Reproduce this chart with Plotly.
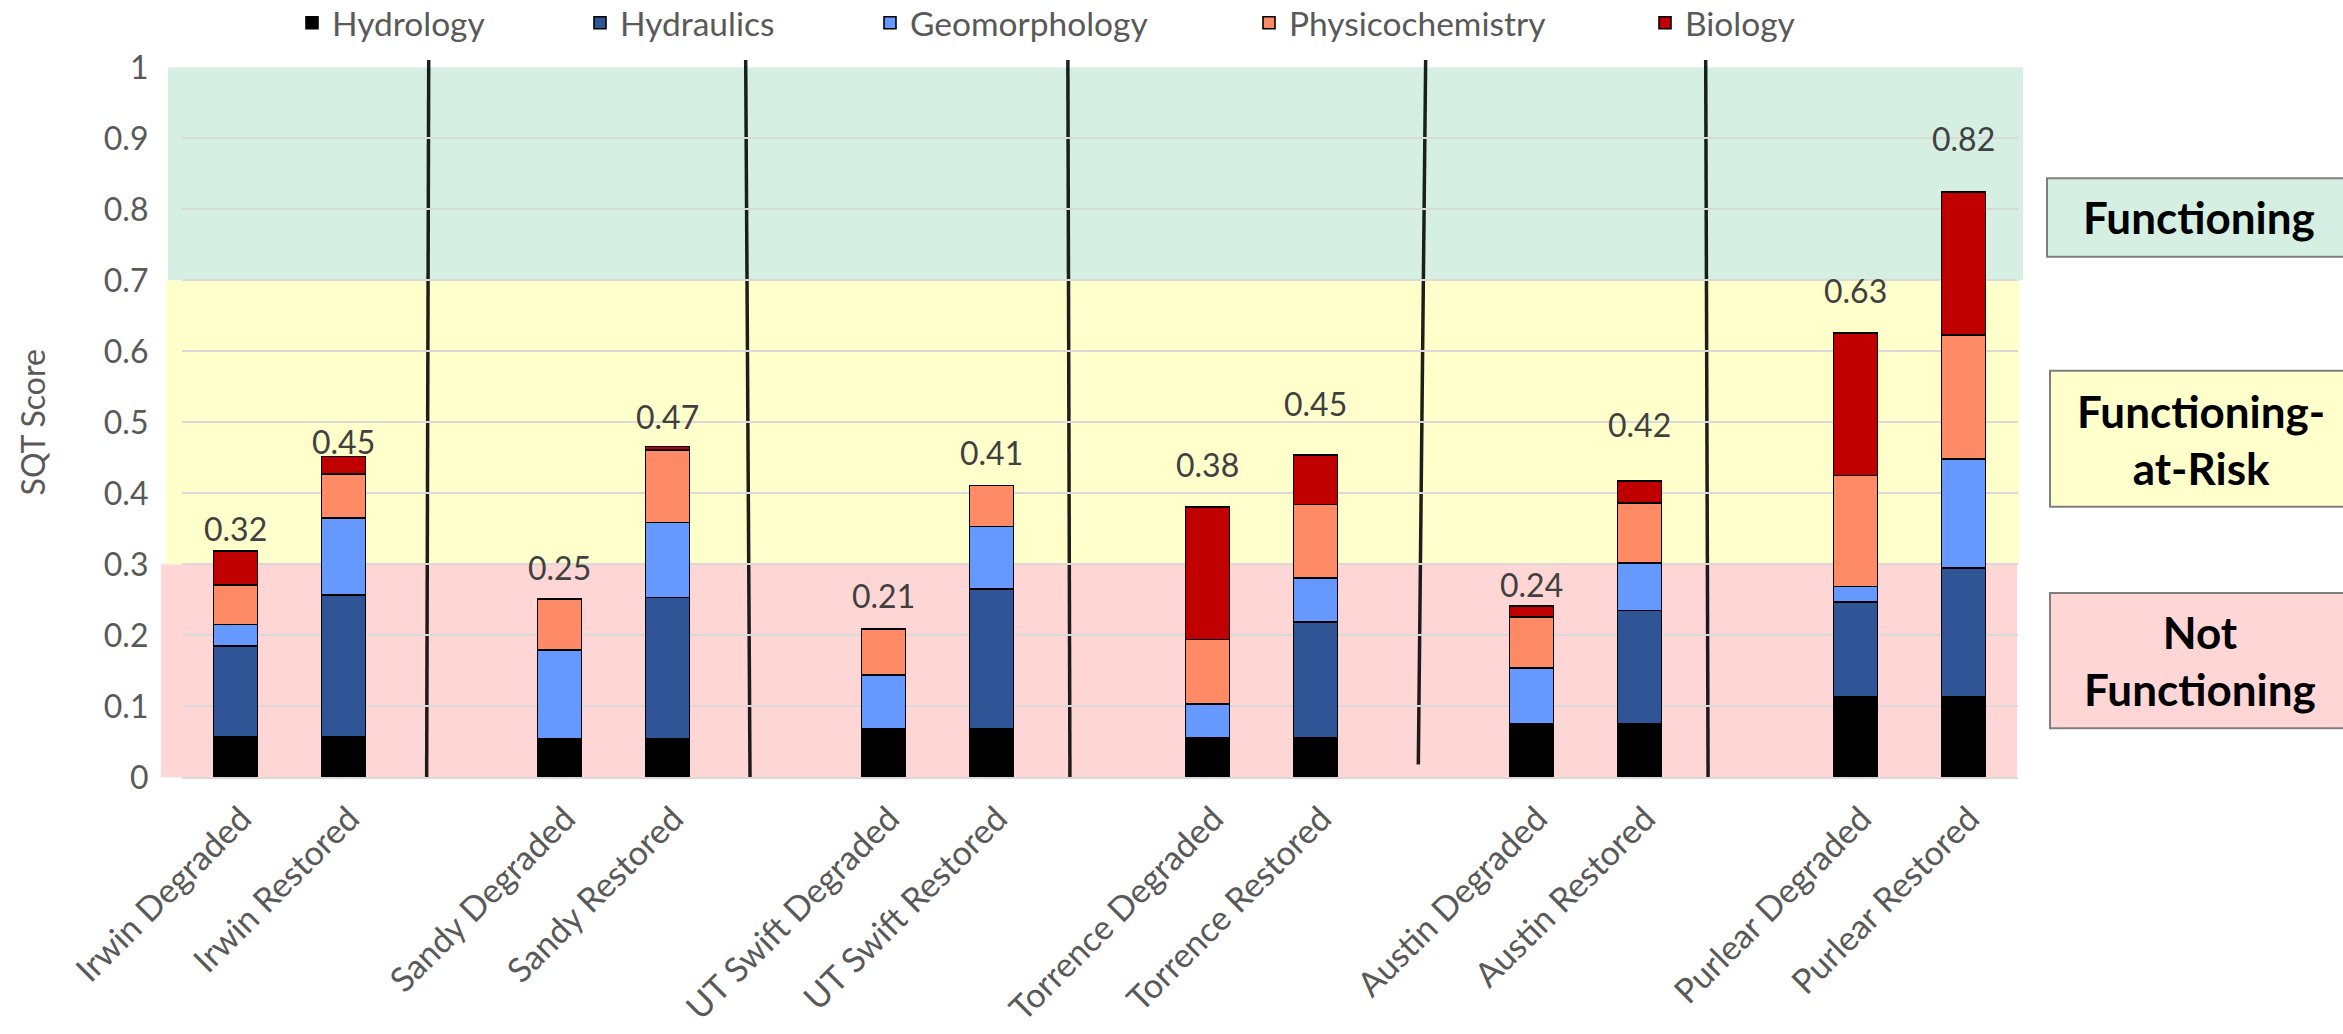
import plotly.graph_objects as go

# ---------------- data ----------------
sites = ["Irwin", "Sandy", "UT Swift", "Torrence", "Austin", "Purlear"]
conditions = ["Degraded", "Restored"]
categories = [f"{s} {c}" for s in sites for c in conditions]

hydrology = [0.057, 0.057, 0.054, 0.054, 0.068, 0.068, 0.056, 0.056, 0.075, 0.075, 0.113, 0.113]
hydraulics = [0.128, 0.200, 0.0, 0.199, 0.0, 0.197, 0.0, 0.163, 0.0, 0.160, 0.134, 0.182]
geomorphology = [0.030, 0.108, 0.125, 0.106, 0.076, 0.088, 0.047, 0.062, 0.079, 0.067, 0.022, 0.153]
physicochemistry = [0.056, 0.062, 0.072, 0.102, 0.065, 0.058, 0.091, 0.103, 0.072, 0.084, 0.156, 0.175]
biology = [0.048, 0.025, 0.0, 0.005, 0.0, 0.0, 0.187, 0.070, 0.015, 0.031, 0.201, 0.201]

series_names = ["Hydrology", "Hydraulics", "Geomorphology", "Physicochemistry", "Biology"]
series_values = [hydrology, hydraulics, geomorphology, physicochemistry, biology]

# condition classes (score thresholds)
class_names = ["Not<br>Functioning", "Functioning-<br>at-Risk", "Functioning"]
class_bounds = [(0.0, 0.3), (0.3, 0.7), (0.7, 1.0)]

# ---------------- styling ----------------
W, H = 2343, 1034
series_colors = ["#000000", "#2F5597", "#6699FF", "#FF8B66", "#C00000"]
class_fill = ["#FFD6D6", "#FFFFCC", "#D5F0E3"]
TICK_GRAY = "#595959"
LABEL_GRAY = "#404040"

# plot area in pixels
PX_L, PX_R = 181.5, 2017.5
PX_TOP, PX_BOT = 67.3, 777.3
xdom = [PX_L / W, PX_R / W]
ydom = [(H - PX_BOT) / H, (H - PX_TOP) / H]


def px_x(p):
    return p / W


def px_y(p):
    return (H - p) / H


def val_to_paper(v):
    return ydom[0] + v * (ydom[1] - ydom[0])


# slot positions: Degraded / Restored pair then one empty slot
positions = [3 * i + j for i in range(len(sites)) for j in range(len(conditions))]

fig = go.Figure()
legend_ids = ["legend", "legend2", "legend3", "legend4", "legend5"]
for k, (name, vals) in enumerate(zip(series_names, series_values)):
    fig.add_trace(go.Bar(
        x=positions, y=vals, name=name,
        marker=dict(color=series_colors[k], line=dict(color="#000000", width=1.6)),
        width=0.41,
        legend=legend_ids[k],
        hoverinfo="name+y",
    ))

# legends (one per series so positions match)
legend_marker_px = [305, 593, 883, 1262, 1658]
for k, lid in enumerate(legend_ids):
    fig.layout[lid] = dict(
        x=px_x(legend_marker_px[k] - 13), y=px_y(23), xanchor="left", yanchor="middle",
        orientation="h", bgcolor="rgba(0,0,0,0)", borderwidth=0,
        font=dict(family="Lato", size=33.5, color=TICK_GRAY),
    )

# total labels above bars
totals = [sum(s[i] for s in series_values) for i in range(len(categories))]
label_offsets = [22, 15, 32, 30, 33, 33, 42, 51, 22, 57, 42, 54]
for i, t in enumerate(totals):
    fig.add_annotation(
        x=positions[i], y=t, text=f"{t:.2f}", showarrow=False,
        yshift=label_offsets[i], yanchor="middle", xanchor="center",
        font=dict(family="Lato", size=32, color=LABEL_GRAY),
    )

# class shading bands (hand-drawn extents)
band_px = [(161, 2017), (166, 2019.5), (168, 2023)]
shapes = []
for (lo, hi), (x0, x1), col in zip(class_bounds, band_px, class_fill):
    shapes.append(dict(type="rect", xref="paper", yref="paper",
                       x0=px_x(x0), x1=px_x(x1), y0=val_to_paper(lo), y1=val_to_paper(hi),
                       fillcolor=col, line=dict(width=0), layer="below"))

# site separators (hand-drawn lines): (x top, x bottom, y bottom)
separators = [(1.789, 1.770, 0.0), (4.724, 4.764, 0.0), (7.707, 7.726, 0.0),
              (11.020, 10.952, 0.018), (13.613, 13.635, 0.0)]
for xt, xb, yb in separators:
    shapes.append(dict(type="line", xref="x", yref="paper",
                       x0=xt, x1=xb, y0=px_y(60), y1=val_to_paper(yb),
                       line=dict(color="rgba(0,0,0,0.88)", width=3.5), layer="below"))

# class boxes on the right
box_px = [(2050, 593, 728.3), (2050, 370.7, 506.7), (2047, 178.3, 256.7)]
text_center_px = [(2200, 660), (2201, 439), (2199, 217.5)]
for (bx, by0, by1), col, txt, (tx, ty) in zip(box_px, class_fill, class_names, text_center_px):
    shapes.append(dict(type="rect", xref="paper", yref="paper",
                       x0=px_x(bx), x1=px_x(2352), y0=px_y(by1), y1=px_y(by0),
                       fillcolor=col, line=dict(color="#7F7F7F", width=2), layer="above"))
    fig.add_annotation(xref="paper", yref="paper", x=px_x(tx), y=px_y(ty),
                       text=f"<b>{txt}</b>", showarrow=False, xanchor="center", yanchor="middle",
                       font=dict(family="Lato", size=44, color="#000000"))

fig.update_layout(
    width=W, height=H,
    margin=dict(l=0, r=0, t=0, b=0, autoexpand=False),
    paper_bgcolor="white", plot_bgcolor="rgba(0,0,0,0)",
    barmode="stack", bargap=0.59,
    shapes=shapes,
    showlegend=True,
    font=dict(family="Lato", color=TICK_GRAY),
)

fig.update_xaxes(
    domain=xdom, range=[-0.5, 16.5],
    tickmode="array", tickvals=positions, ticktext=categories,
    tickangle=-45, tickfont=dict(family="Lato", size=34, color=TICK_GRAY),
    ticklabelstandoff=6, ticklabelshift=6,
    showgrid=False, zeroline=False, automargin=False,
    showline=True, linecolor="#D9D9D9", linewidth=2, ticks="",
)
fig.update_yaxes(
    domain=ydom, range=[0, 1], dtick=0.1, tick0=0,
    tickfont=dict(family="Lato", size=32, color=TICK_GRAY),
    showgrid=True, gridcolor="#D9D9D9", gridwidth=1.8,
    zeroline=False, automargin=False, ticks="", ticklabelstandoff=32,
    title=dict(text="SQT Score", font=dict(family="Lato", size=32, color=TICK_GRAY), standoff=48),
)

fig.write_html("out.html")
